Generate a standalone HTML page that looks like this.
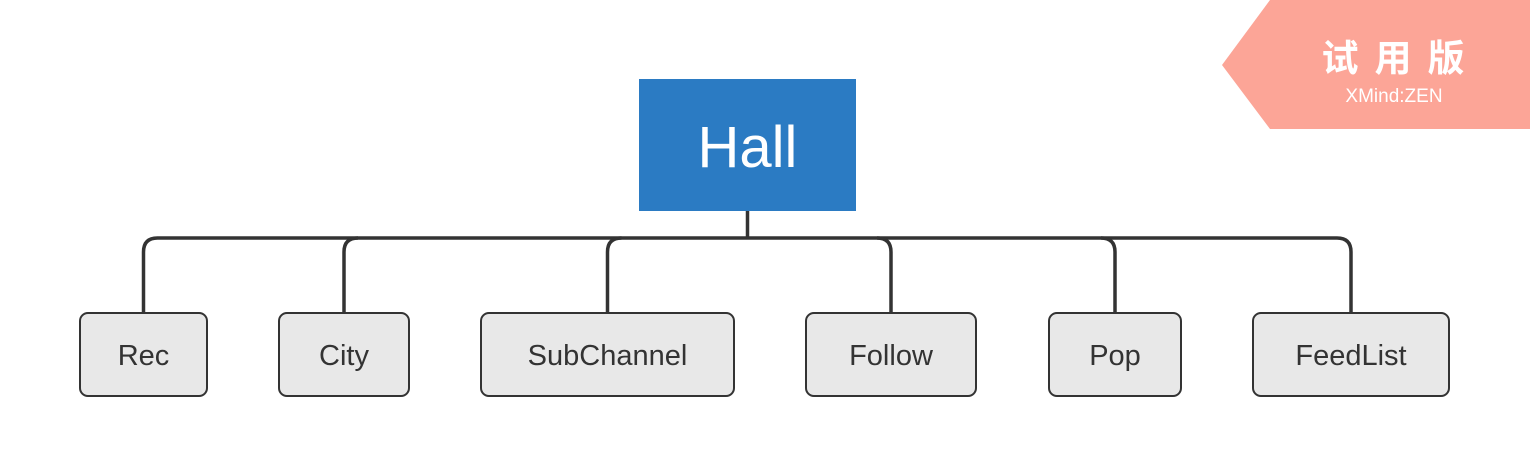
<!DOCTYPE html>
<html><head><style>body{margin:0;background:#fff}svg{display:block}</style></head>
<body>
<svg width="1530" height="476" xmlns="http://www.w3.org/2000/svg">
<rect width="1530" height="476" fill="#fff"/>
<polygon points="1270,0 1530,0 1530,129 1270,129 1222,65" fill="#FCA597"/>
<text x="1401" y="71" font-family="Noto Sans CJK SC, sans-serif" font-weight="bold" font-size="37" fill="#fff" text-anchor="middle" letter-spacing="16">试用版</text>
<text x="1394" y="102" font-family="Liberation Sans, sans-serif" font-size="19" fill="#fff" text-anchor="middle">XMind:ZEN</text>
<rect x="639" y="79" width="217" height="132" fill="#2B7BC3"/>
<text x="747.5" y="167" font-family="Liberation Sans, sans-serif" font-size="58" fill="#fff" text-anchor="middle">Hall</text>
<g fill="none" stroke="#333" stroke-width="3.5">
<line x1="747.5" y1="211" x2="747.5" y2="238"/>
<path d="M143.5 312 V252 Q143.5 238 157.5 238 H1337 Q1351 238 1351 252 V312"/>
<path d="M344 312 V252 Q344 238 358 238"/>
<path d="M607.5 312 V252 Q607.5 238 621.5 238"/>
<path d="M891 312 V252 Q891 238 877 238"/>
<path d="M1115 312 V252 Q1115 238 1101 238"/>
</g>
<g fill="#E8E8E8" stroke="#333" stroke-width="2">
<rect x="80" y="313" width="127" height="83" rx="8"/>
<rect x="279" y="313" width="130" height="83" rx="8"/>
<rect x="481" y="313" width="253" height="83" rx="8"/>
<rect x="806" y="313" width="170" height="83" rx="8"/>
<rect x="1049" y="313" width="132" height="83" rx="8"/>
<rect x="1253" y="313" width="196" height="83" rx="8"/>
</g>
<g font-family="Liberation Sans, sans-serif" font-size="29" fill="#333" text-anchor="middle">
<text x="143.5" y="365">Rec</text>
<text x="344" y="365">City</text>
<text x="607.5" y="365">SubChannel</text>
<text x="891" y="365">Follow</text>
<text x="1115" y="365">Pop</text>
<text x="1351" y="365">FeedList</text>
</g>
</svg>
</body></html>
